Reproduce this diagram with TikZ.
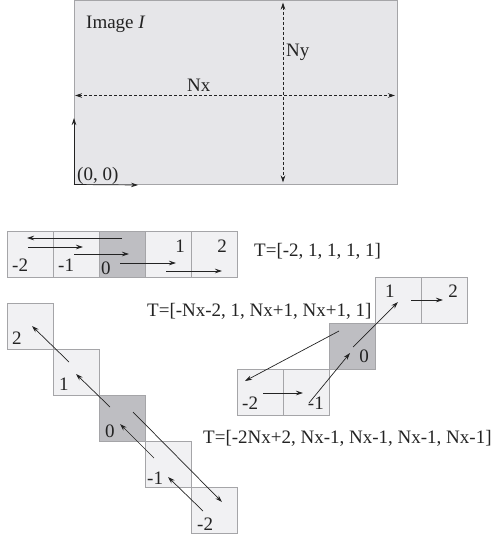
\documentclass[tikz,border=0pt]{standalone}
\usepackage{fontspec}
\setmainfont{Liberation Serif}
\usetikzlibrary{arrows.meta,positioning,calc}
\definecolor{imgfill}{RGB}{230,230,233}
\definecolor{cellfill}{RGB}{241,241,243}
\definecolor{zerofill}{RGB}{190,190,194}
\definecolor{rim}{RGB}{165,165,168}
\definecolor{ink}{RGB}{35,35,35}

\begin{document}
\begin{tikzpicture}[x=1pt, y=-1pt, >={Stealth[length=7pt,width=4.5pt]},
  node distance=0pt,
  every node/.style = {font=\fontsize{19}{22}\selectfont, text=ink},
  cell/.style  = {rectangle, draw=rim, line width=0.8pt, fill=cellfill,
                  minimum size=46pt, inner sep=0pt, outer sep=0pt},
  zero/.style  = {cell, fill=zerofill},
  tag/.style   = {inner sep=0pt},
  arrow/.style = {->, draw=ink, line width=0.7pt},
  dim/.style   = {<->, draw=ink, line width=0.7pt,
                  dash pattern=on 3pt off 2pt},
]
  \useasboundingbox (0,0) rectangle (494,538);

  % image and its extent
  \node[rectangle, draw=rim, fill=imgfill, line width=0.8pt,
        minimum width=323pt, minimum height=184pt, inner sep=0pt,
        outer sep=0pt, anchor=north west] (img) at (74,0.5) {};
  \node[tag, anchor=base west] (title) at (86,28) {Image \textit{I}};
  \draw[dim] ([shift={(1,3)}]img.west) -- ([shift={(-2,3)}]img.east);
  \draw[dim] ([shift={(47.5,2)}]img.north) -- ([shift={(47.5,-2)}]img.south);
  \node[tag, anchor=base west] (nx) at (187,91) {Nx};
  \node[tag, anchor=base west] (ny) at (286,56) {Ny};
  \node[tag, anchor=base west] (orig) at (77,180) {(0, 0)};
  \coordinate (yend) at (74,118);
  \coordinate (xend) at (138,185);
  \draw[arrow] (img.south west) -- (yend);
  \draw[arrow] (img.south west) -- (xend);

  % row of pixels
  \node[cell] (s2m) at (30,254) {};
  \node[cell, right=of s2m] (s1m) {};
  \node[zero, right=of s1m] (s0) {};
  \node[cell, right=of s0] (s1) {};
  \node[cell, right=of s1] (s2) {};
  \node[tag, anchor=base west] (ls2m) at ([shift={(5,-6)}]s2m.south west) {-2};
  \node[tag, anchor=base west] (ls1m) at ([shift={(5,-6)}]s1m.south west) {-1};
  \node[tag, anchor=base west] (ls0) at ([shift={(2,-3)}]s0.south west) {0};
  \node[tag, anchor=base east] (ls1) at ([shift={(-6,21)}]s1.north east) {1};
  \node[tag, anchor=base east] (ls2) at ([shift={(-10,21)}]s2.north east) {2};
  \draw[arrow] ([shift={(0,-16)}]s0.center) -- ([shift={(-3,-16)}]s2m.center);
  \draw[arrow] ([shift={(-2,-7)}]s2m.center) -- ([shift={(7,-7)}]s1m.center);
  \draw[arrow] ([shift={(-2,0)}]s1m.center) -- ([shift={(7,0)}]s0.center);
  \draw[arrow] ([shift={(-2,9)}]s0.center) -- ([shift={(8,9)}]s1.center);
  \draw[arrow] ([shift={(-2,17)}]s1.center) -- ([shift={(8,17)}]s2.center);
  \node[tag, anchor=base west] (trow) at (254,256) {T=[-2, 1, 1, 1, 1]};

  % falling diagonal
  \node[cell] (d2) at (30,326) {};
  \node[cell, below right=of d2] (d1) {};
  \node[zero, below right=of d1] (d0) {};
  \node[cell, below right=of d0] (d1m) {};
  \node[cell, below right=of d1m] (d2m) {};
  \node[tag, anchor=base west] (ld2) at ([shift={(5,-5)}]d2.south west) {2};
  \node[tag, anchor=base west] (ld1) at ([shift={(6,-5)}]d1.south west) {1};
  \node[tag, anchor=base west] (ld0) at ([shift={(6,-4)}]d0.south west) {0};
  \node[tag, anchor=base west] (ld1m) at ([shift={(2,-3)}]d1m.south west) {-1};
  \node[tag, anchor=base west] (ld2m) at ([shift={(6,-3)}]d2m.south west) {-2};
  \draw[arrow] ([shift={(-11,1)}]d2m.center) -- ([shift={(0,13)}]d1m.center);
  \draw[arrow] ([shift={(-14,-6)}]d1m.center) -- ([shift={(-2,6)}]d0.center);
  \draw[arrow] ([shift={(11,-6)}]d0.center) -- ([shift={(8,-8)}]d2m.center);
  \draw[arrow] ([shift={(-12,-11)}]d0.center) -- ([shift={(0,2)}]d1.center);
  \draw[arrow] ([shift={(-7,-10)}]d1.center) -- ([shift={(2,0)}]d2.center);

  % rising staircase
  \node[cell] (r2m) at (260,392) {};
  \node[cell, right=of r2m] (r1m) {};
  \node[zero, above right=of r1m] (r0) {};
  \node[cell, above right=of r0] (r1) {};
  \node[cell, right=of r1] (r2) {};
  \node[tag, anchor=base west] (lr2m) at ([shift={(5,-6)}]r2m.south west) {-2};
  \node[tag, anchor=base east] (lr1m) at ([shift={(-5,-6)}]r1m.south east) {-1};
  \node[tag, anchor=base east] (lr0) at ([shift={(-6,-7)}]r0.south east) {0};
  \node[tag, anchor=base west] (lr1) at ([shift={(10,20)}]r1.north west) {1};
  \node[tag, anchor=base east] (lr2) at ([shift={(-9,20)}]r2.north east) {2};
  \draw[arrow] ([shift={(-13,-15)}]r0.center) -- ([shift={(-15,-11)}]r2m.center);
  \draw[arrow] ([shift={(3,1)}]r2m.center) -- ([shift={(-3,1)}]r1m.center);
  \draw[arrow] ([shift={(3,11)}]r1m.center) -- ([shift={(-2,7)}]r0.center);
  \draw[arrow] ([shift={(1,1)}]r0.center) -- ([shift={(0,2)}]r1.center);
  \draw[arrow] ([shift={(13,0)}]r1.center) -- ([shift={(-1,0)}]r2.center);
  \node[tag, anchor=base west] (tstair) at (147,316) {T=[-Nx-2, 1, Nx+1, Nx+1, 1]};
  \node[tag, anchor=base west] (tdiag) at (203,443) {T=[-2Nx+2, Nx-1, Nx-1, Nx-1, Nx-1]};
\end{tikzpicture}
\end{document}
